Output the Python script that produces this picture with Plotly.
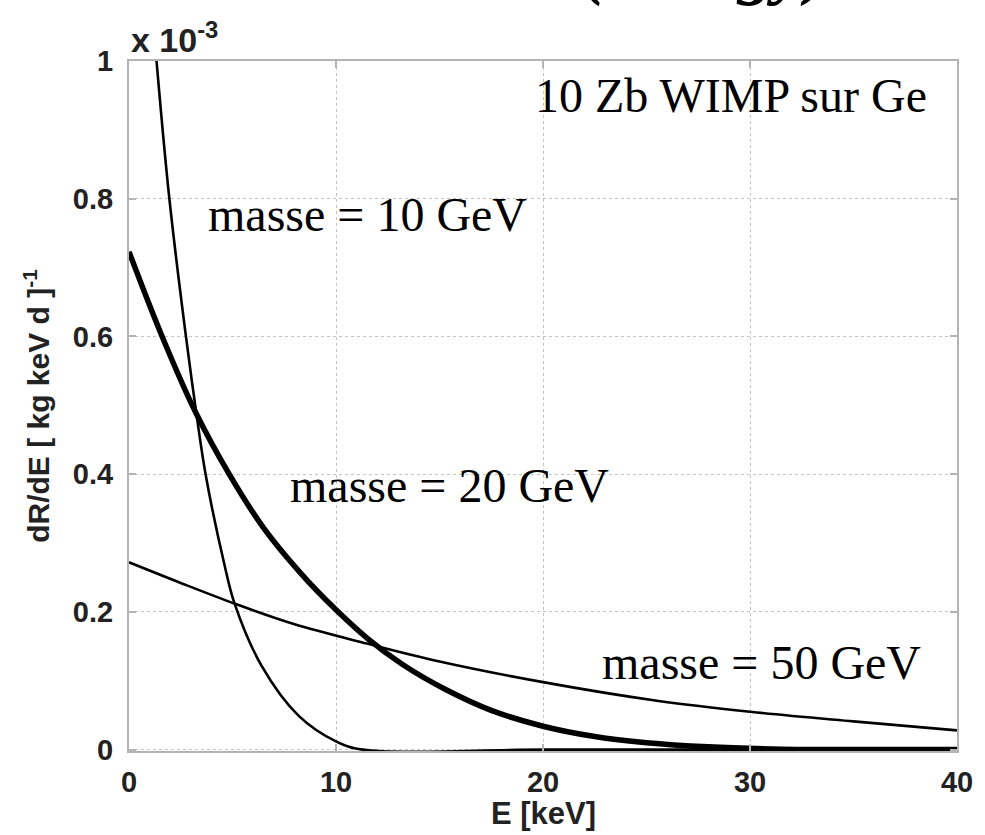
import plotly.graph_objects as go

# Energy grid (keV) and dR/dE values (x 1e-3 [kg keV d]^-1)
e_10 = [0.0, 0.6, 1.33, 1.95, 2.75, 3.2, 3.7, 4.6, 5.1, 6.4, 8.2, 10.0, 11.3, 20.0, 30.0, 40.0]
r_10 = [1.55, 1.27, 1.0, 0.8, 0.6, 0.5, 0.4, 0.27, 0.212, 0.122, 0.049, 0.012, 0.0, 0.0, 0.0, 0.0]

e_20 = [0.0, 1.6, 3.2, 4.84, 6.5, 8.3, 10.0, 11.5, 13.2, 15.25, 17.5, 20.0, 22.5, 25.0, 28.0, 31.0, 34.0, 40.0]
r_20 = [0.723, 0.6, 0.491, 0.4, 0.322, 0.256, 0.203, 0.162, 0.124, 0.088, 0.057, 0.034, 0.019, 0.010, 0.004, 0.001, 0.0, 0.0]

e_50 = [0.0, 2.5, 5.1, 8.0, 11.5, 15.0, 20.0, 25.5, 30.0, 35.0, 40.0]
r_50 = [0.272, 0.242, 0.212, 0.182, 0.154, 0.128, 0.098, 0.071, 0.055, 0.041, 0.028]

x_ticks = [0, 10, 20, 30, 40]
x_tick_labels = ["0", "10", "20", "30", "40"]
y_ticks = [0, 0.2, 0.4, 0.6, 0.8, 1.0]
y_tick_labels = ["0", "0.2", "0.4", "0.6", "0.8", "1"]

fig = go.Figure()
for ex, ry, w in [(e_50, r_50, 2.6), (e_10, r_10, 2.6), (e_20, r_20, 5.5)]:
    fig.add_trace(go.Scatter(x=ex, y=ry, mode="lines",
                             line=dict(color="black", width=w, shape="spline", smoothing=1.0),
                             showlegend=False, hoverinfo="skip"))

tick_font = dict(family="Liberation Sans", size=29, color="#222222", weight="bold")
axis_common = dict(showline=True, mirror="ticks", linecolor="#b4b4b4", linewidth=2,
                   showgrid=True, gridcolor="#c4c4c4", griddash="dot", gridwidth=1,
                   ticks="inside", ticklen=7, tickcolor="#b4b4b4", tickwidth=1.5,
                   zeroline=False, tickfont=tick_font)

fig.update_xaxes(range=[0, 40], tickvals=x_ticks, ticktext=x_tick_labels,
                 ticklabelstandoff=4, **axis_common)
fig.update_yaxes(range=[-0.002, 1.0], tickvals=y_ticks, ticktext=y_tick_labels,
                 title=dict(text="dR/dE [ kg keV d ]<sup>-1</sup>",
                            font=dict(family="Liberation Sans", size=30,
                                      color="#222222", weight="bold"),
                            standoff=14),
                 ticklabelstandoff=8, **axis_common)

serif = dict(family="Liberation Serif", size=48, color="black")
annotations = [
    dict(text="10 Zb WIMP sur Ge", x=38.65, y=0.95, xanchor="right", yanchor="middle"),
    dict(text="masse = 10 GeV", x=3.72, y=0.777, xanchor="left", yanchor="middle"),
    dict(text="masse = 20 GeV", x=7.68, y=0.383, xanchor="left", yanchor="middle"),
    dict(text="masse = 50 GeV", x=38.37, y=0.126, xanchor="right", yanchor="middle"),
]
for a in annotations:
    fig.add_annotation(xref="x", yref="y", showarrow=False, font=serif, **a)

# x-axis title placed as an annotation to match the reference position
fig.add_annotation(xref="paper", yref="paper", x=0.5, y=-0.09, xanchor="center", yanchor="middle",
                   showarrow=False, text="<b>E [keV]</b>",
                   font=dict(family="Liberation Sans", size=31, color="#222222"))
fig.add_annotation(xref="paper", yref="paper", x=0, y=1.0, xanchor="left", yanchor="bottom",
                   yshift=0, showarrow=False, text="<b>x 10<sup>-3</sup></b>",
                   font=dict(family="Liberation Sans", size=34, color="#222222"))
fig.add_annotation(xref="paper", yref="paper", x=0.545, y=1.0, xanchor="left", yanchor="bottom",
                   yshift=52, showarrow=False, text="(energy)",
                   font=dict(family="Liberation Serif", size=72, color="black",
                             weight="bold", style="italic"))

fig.update_layout(width=985, height=835, margin=dict(l=129, r=21, t=61, b=84),
                  paper_bgcolor="white", plot_bgcolor="white")
fig.write_html("out.html")
